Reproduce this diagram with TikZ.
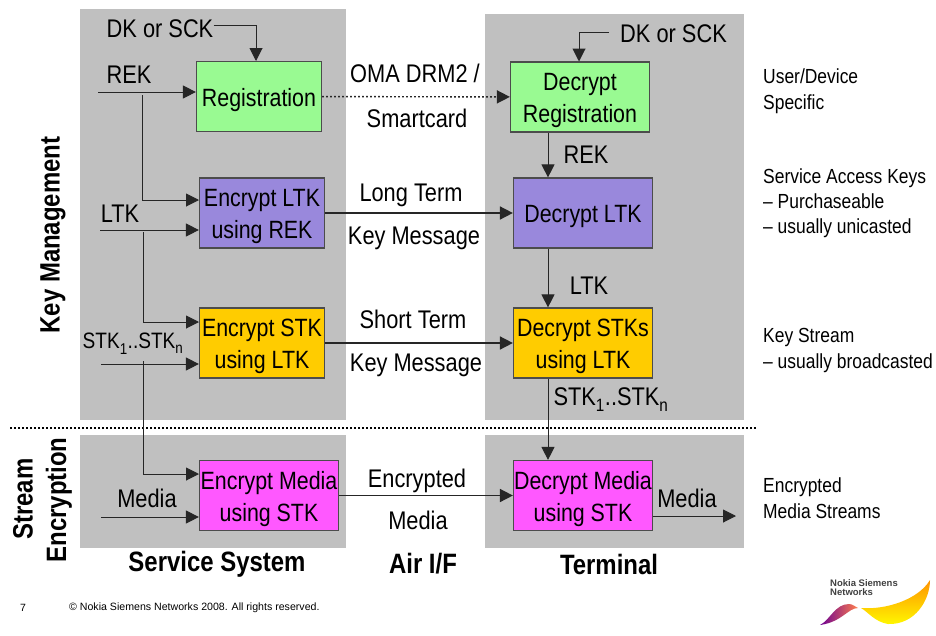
\documentclass[tikz,border=0pt]{standalone}
\usepackage{fontspec}
\setmainfont[FakeStretch=0.855]{Liberation Sans}
\newfontfamily\plainfont{Liberation Sans}
\usetikzlibrary{arrows.meta,shadings}
\definecolor{panelgray}{RGB}{192,192,192}
\definecolor{regcolor}{RGB}{153,250,146}
\definecolor{ltkcolor}{RGB}{153,136,220}
\definecolor{stkcolor}{RGB}{255,204,0}
\definecolor{mediacolor}{RGB}{255,88,255}
\newcommand{\stkrange}{STK\raisebox{-.12em}{\textsubscript{1}}..STK\raisebox{-.12em}{\textsubscript{n}}}
\newcommand{\boxtop}{\rule{0pt}{25pt}}

\begin{document}
\begin{tikzpicture}[x=1pt, y=-1pt,
  panel/.style = {fill=panelgray, draw=none},
  box/.style = {draw=black!70, line width=1.2pt, minimum height=70pt, inner sep=0pt, align=center, font=\fontsize{25}{32}\selectfont},
  wire/.style = {draw=black!85, line width=1pt},
  arrow/.style = {wire, -{Triangle[length=13pt,width=13pt]}},
  airlink/.style = {arrow, line width=1.6pt},
  dotline/.style = {line width=1.4pt, dash pattern=on 1.8pt off 2.2pt},
  lab/.style = {inner sep=0pt, anchor=base, font=\fontsize{25.5}{27}\selectfont},
  note/.style = {inner sep=0pt, anchor=base west, font=\fontsize{20.4}{22}\selectfont},
  head/.style = {inner sep=0pt, font=\fontsize{28}{30}\selectfont\bfseries}]

\useasboundingbox (0,0) rectangle (936,635);

% Panels
\fill[panel] (80,9) rectangle (346,420);
\fill[panel] (485,14) rectangle (744,420);
\fill[panel] (80,435) rectangle (346,548);
\fill[panel] (485,435) rectangle (744,548);

% Separator
\draw[dotline] (10,428) -- (757,428);

% Boxes, service system
\node[box, fill=regcolor, minimum width=125pt] (regbox) at (259,96.5) {\boxtop Registration};
\node[box, fill=ltkcolor, minimum width=125pt] (encltk) at (262,213) {\boxtop Encrypt LTK\\using REK};
\node[box, fill=stkcolor, minimum width=125pt] (encstk) at (262,343) {\boxtop Encrypt STK\\using LTK};
\node[box, fill=mediacolor, minimum width=139pt] (encmedia) at (269,495.5) {\boxtop Encrypt Media\\using STK};

% Boxes, terminal
\node[box, fill=regcolor, minimum width=139pt] (decreg) at (580,97) {\boxtop Decrypt\\Registration};
\node[box, fill=ltkcolor, minimum width=139pt] (decltk) at (583,213) {\boxtop Decrypt LTK};
\node[box, fill=stkcolor, minimum width=139pt] (decstk) at (583,343) {\boxtop Decrypt STKs\\using LTK};
\node[box, fill=mediacolor, minimum width=139pt] (decmedia) at (583,495.5) {\boxtop Decrypt Media\\using STK};

% Free ends
\coordinate (rekin) at (98,92);
\coordinate (rektap) at (142,95);
\coordinate (ltkin) at (100,230);
\coordinate (ltktap) at (143,232);
\coordinate (stkin) at (101,364);
\coordinate (stktap) at (143,361);
\coordinate (mediain) at (101,517);
\coordinate (mediaout) at (736,516);
\coordinate (rektarget) at (199,200);
\coordinate (ltktarget) at (199,322);
\coordinate (stktarget) at (199,474);
\coordinate (dkdrop) at (256,61);
\coordinate (dkdropb) at (579,61.5);
\coordinate (termx) at (548,0);

% Key labels at the top
\node[lab] (dkleft) at (160,37) {DK or SCK};
\node[lab] (dkright) at (673.5,42) {DK or SCK};
\draw[arrow] ([yshift=3pt]dkleft.east) -| (dkdrop);
\draw[arrow] ([xshift=-11pt,yshift=1pt]dkright.west) -| (dkdropb);

% Inputs
\draw[arrow] (rekin) -- (rekin -| regbox.west);
\draw[arrow] (ltkin) -- (ltkin -| encltk.west);
\draw[arrow] (stkin) -- (stkin -| encstk.west);
\draw[arrow] (mediain) -- (mediain -| encmedia.west);
\draw[arrow] (rektap) |- (rektarget);
\draw[arrow] (ltktap) |- (ltktarget);
\draw[arrow] (stktap) |- (stktarget);

% Across the air interface
\draw[arrow, dotline] (regbox) -- (decreg);
\draw[airlink] (encltk) -- (decltk);
\draw[airlink] (encstk) -- (decstk);
\draw[airlink] (encmedia) -- (decmedia);

% Terminal chain
\draw[arrow] (decreg.south -| termx) -- (decltk.north -| termx);
\draw[arrow] (decltk.south -| termx) -- (decstk.north -| termx);
\draw[arrow] (decstk.south -| termx) -- (decmedia.north -| termx);
\draw[arrow] (decmedia.east |- mediaout) -- (mediaout);

% Labels on the connectors
\node[lab] (reklab) at (129,83) {REK};
\node[lab] (ltklab) at (120,222) {LTK};
\node[lab, font=\fontsize{22.3}{24}\selectfont] (stklab) at (133,348) {\stkrange};
\node[lab] (medialab) at (147,507) {Media};
\node[lab] (omalab) at (415,82) {OMA DRM2 /};
\node[lab] (smartlab) at (417,127) {Smartcard};
\node[lab] (longlab) at (411,201) {Long Term};
\node[lab] (keylaba) at (414,244) {Key Message};
\node[lab] (shortlab) at (413,328) {Short Term};
\node[lab] (keylabb) at (416,371) {Key Message};
\node[lab] (enclab) at (417,487) {Encrypted};
\node[lab] (medialabb) at (418,529) {Media};
\node[lab] (reklabb) at (586,163) {REK};
\node[lab] (ltklabb) at (589,294) {LTK};
\node[lab] (stklabb) at (611,405) {\stkrange};
\node[lab] (medialabc) at (687,507) {Media};

% Notes on the right
\node[note] (userlab) at (763,83) {User/Device};
\node[note] (speclab) at (763,109) {Specific};
\node[note] (servlab) at (763,183) {Service Access Keys};
\node[note] (purchlab) at (763,208) {-- Purchaseable};
\node[note] (unilab) at (763,233) {-- usually unicasted};
\node[note] (streamlab) at (763,342) {Key Stream};
\node[note] (broadlab) at (763,368) {-- usually broadcasted};
\node[note] (encrlab) at (763,492) {Encrypted};
\node[note] (mediastr) at (763,518) {Media Streams};

% Headings
\node[head] (sslab) at (217,564) {Service System};
\node[head] (airlab) at (423,564) {Air I/F};
\node[head] (termlab) at (609,564) {Terminal};
\node[head, rotate=90] (kmlab) at (53,235) {Key Management};
\node[head, rotate=90] (stlab) at (23,499) {Stream};
\node[head, rotate=90] (enlab) at (59,500) {Encryption};

% Footer
\node[inner sep=0pt, font=\plainfont\fontsize{10.5}{12}\selectfont] (pagelab) at (23,608) {7};
\node[inner sep=0pt, anchor=west, font=\plainfont\fontsize{10.6}{12}\selectfont] (copylab) at (69,608) {\textcopyright\ Nokia Siemens Networks 2008. All rights reserved.};

% Logo
\node[inner sep=0pt, anchor=west, align=left, text=black!75, font=\plainfont\bfseries\fontsize{9.5}{9}\selectfont] (logolab) at (830,588) {Nokia Siemens\\Networks};
\shade[left color=violet!85!blue, right color=red!45!orange!70] (820,625) .. controls (830,620) and (835,604) .. (849,604) .. controls (853,604) and (855,607) .. (858,608) .. controls (848,608) and (842,622) .. (820,625) -- cycle;
\shade[top color=orange!85!yellow, bottom color=yellow!95!orange] (861,608) .. controls (885,610) and (918,600) .. (930,580) .. controls (930,600) and (915,625) .. (888,624) .. controls (875,622) and (868,612) .. (861,608) -- cycle;

\end{tikzpicture}
\end{document}
